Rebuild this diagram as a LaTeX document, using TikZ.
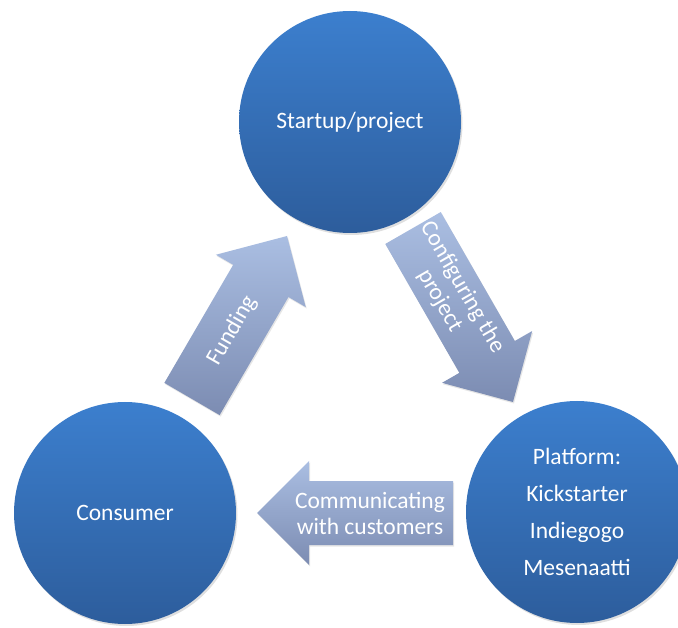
\documentclass[tikz,border=0pt]{standalone}
\usepackage{fontspec}
\setmainfont{Carlito}
\usetikzlibrary{calc,shadows}

\definecolor{disclight}{RGB}{60,127,206}
\definecolor{discdark}{RGB}{45,93,156}
\definecolor{arrowlight}{RGB}{170,190,226}
\definecolor{arrowdark}{RGB}{124,140,178}

% block arrow from a tail coordinate to a tip coordinate
\newcommand\blockarrow[2]{%
  \coordinate (#1-neck) at ($(#2)!52pt!(#1)$);
  \path[arrowbody] ($(#1)!32pt!90:(#2)$) -- ($(#1-neck)!32pt!90:(#2)$)
    -- ($(#1-neck)!52pt!90:(#2)$) -- (#2)
    -- ($(#1-neck)!52pt!-90:(#2)$) -- ($(#1-neck)!32pt!-90:(#2)$)
    -- ($(#1)!32pt!-90:(#2)$) -- cycle;}

\begin{document}
\begin{tikzpicture}[
    x=1pt, y=-1pt,
    disc/.style={
      circle,
      minimum size=222pt,
      inner sep=0pt,
      top color=disclight,
      bottom color=discdark,
      text=white,
      align=center,
      font=\fontsize{23.5}{28}\selectfont,
      drop shadow={opacity=.25, shadow xshift=1.5pt, shadow yshift=-2pt}},
    arrowbody/.style={
      top color=arrowlight,
      bottom color=arrowdark,
      drop shadow={opacity=.2, shadow xshift=1pt, shadow yshift=-1.5pt}},
    arrowtext/.style={
      text=white,
      align=center,
      inner sep=0pt,
      font=\fontsize{23.5}{26}\selectfont}]
    \useasboundingbox (0,0) rectangle (678,628);

    \node[disc] (start) at (350,122) {Startup/project};
    \node[disc] (cons)  at (125,513) {Consumer};
    \node[disc, font=\fontsize{23.5}{37}\selectfont] (plat) at (577,512)
      {Platform:\\Kickstarter\\Indiegogo\\Mesenaatti};

    \coordinate (fund-tail) at (192,399);
    \coordinate (fund-tip)  at (287,236);
    \coordinate (conf-tail) at (413,228);
    \coordinate (conf-tip)  at (513,402);
    \coordinate (comm-tail) at (453,513);
    \coordinate (comm-tip)  at (257,513);

    \blockarrow{fund-tail}{fund-tip}
    \blockarrow{conf-tail}{conf-tip}
    \blockarrow{comm-tail}{comm-tip}

    \node[arrowtext, rotate=60]  (fund) at ($(fund-tail)!.42!(fund-tip)$) {Funding};
    \node[arrowtext, rotate=-60] (conf) at ($(conf-tail)!.38!(conf-tip)$) {Configuring the\\project};
    \node[arrowtext]             (comm) at (370,513) {Communicating\\with customers};
\end{tikzpicture}
\end{document}
